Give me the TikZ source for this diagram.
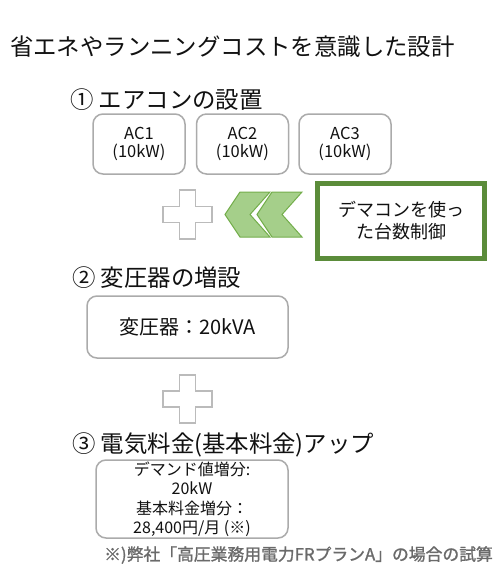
\documentclass[tikz,border=0pt]{standalone}
\usepackage{fontspec}
\setmainfont{Noto Sans CJK JP}
\newfontfamily\notefont{Noto Sans CJK JP}[FakeBold=1.2]
\definecolor{boxgray}{HTML}{ABABAB}
\definecolor{plusgray}{HTML}{BBBBBB}
\definecolor{darkgreen}{HTML}{5B8C3A}
\definecolor{chevfill}{HTML}{A5CF8A}
\definecolor{chevline}{HTML}{74AE4C}
\definecolor{txt}{HTML}{111111}
\definecolor{notegray}{HTML}{6A6A6A}
\begin{document}
\begin{tikzpicture}[x=1pt,y=-1pt,
  heading/.style={anchor=west,inner sep=0pt,text=txt,font=\fontsize{23.4}{28}\selectfont},
  graybox/.style={draw=boxgray,line width=1.5pt,rounded corners=10pt,fill=white,inner sep=0pt,align=center,text=txt},
  acbox/.style={graybox,minimum width=92pt,minimum height=60pt,font=\fontsize{16.5}{18}\selectfont},
  plusshape/.style={draw=plusgray,line width=1.5pt,fill=white},
  chevron/.style={draw=chevline,line width=1pt,fill=chevfill,line join=miter}
]
\useasboundingbox (0,0) rectangle (496,571);
\fill[white] (0,0) rectangle (496,571);

\node[heading] (title) at (10,47) {省エネやランニングコストを意識した設計};

\node[heading] (h1) at (70,100) {① エアコンの設置};
\node[acbox] (ac1) at (139,144) {AC1\\(10kW)};
\node[acbox] (ac2) at (242.5,144) {AC2\\(10kW)};
\node[acbox] (ac3) at (345,144) {AC3\\(10kW)};

% plus 1
\draw[plusshape] (179.5,190) -- (195.5,190) -- (195.5,206.5) -- (212,206.5) -- (212,222.5) -- (195.5,222.5) -- (195.5,239) -- (179.5,239) -- (179.5,222.5) -- (163,222.5) -- (163,206.5) -- (179.5,206.5) -- cycle;

% chevrons
\draw[chevron] (225,214.5) -- (240,192) -- (270,192) -- (250,214.5) -- (270,237) -- (240,237) -- cycle;
\draw[chevron] (257,214.5) -- (272,192) -- (302,192) -- (282,214.5) -- (302,237) -- (272,237) -- cycle;

\node[draw=darkgreen,line width=5pt,fill=white,minimum width=167pt,minimum height=75pt,inner sep=0pt,align=center,text=txt,font=\fontsize{18}{22}\selectfont] (ctrl) at (401,220.5) {デマコンを使っ\\た台数制御};

\node[heading] (h2) at (72,278) {② 変圧器の増設};
\node[graybox,minimum width=201pt,minimum height=62pt,font=\fontsize{20}{24}\selectfont] (trans) at (187.5,327) {変圧器：20kVA};

% plus 2
\draw[plusshape] (179.5,375) -- (195.5,375) -- (195.5,391) -- (212,391) -- (212,407) -- (195.5,407) -- (195.5,423) -- (179.5,423) -- (179.5,407) -- (163,407) -- (163,391) -- (179.5,391) -- cycle;

\node[heading] (h3) at (72,445) {③ 電気料金(基本料金)アップ};
\node[graybox,minimum width=192pt,minimum height=78pt,font=\fontsize{16}{19.5}\selectfont] (fee) at (192,499) {デマンド値増分:\\20kW\\基本料金増分：\\28,400円/月 (※)};

\node[anchor=west,inner sep=0pt,text=notegray,font=\notefont\fontsize{16.8}{20}\selectfont] (note) at (104,555) {※)弊社「高圧業務用電力FRプランA」の場合の試算};
\end{tikzpicture}
\end{document}
